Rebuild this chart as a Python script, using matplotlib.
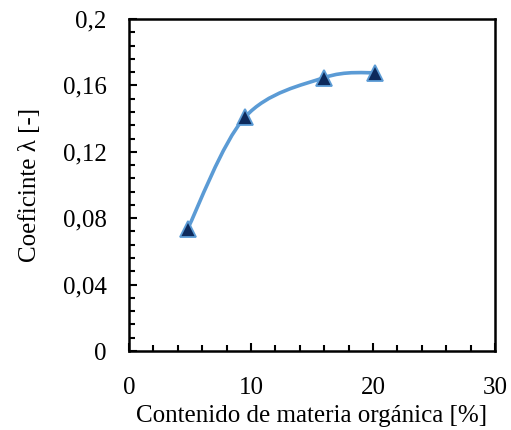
import matplotlib
matplotlib.use("Agg")
import matplotlib.pyplot as plt
import numpy as np
from matplotlib.path import Path
from matplotlib.patches import PathPatch
from matplotlib.ticker import MultipleLocator, FuncFormatter

# data
materia_organica = [4.8, 9.5, 16.0, 20.2]
coef_lambda = [0.0735, 0.1408, 0.1647, 0.1677]

plt.rcParams['font.family'] = ['Liberation Serif', 'DejaVu Serif']
plt.rcParams['font.size'] = 18

LINE_COLOR = '#5B9BD5'
MARKER_COLOR = '#0D2A5C'


def smooth_path(xs, ys, tension=1.0 / 6):
    """Excel-like smoothed line: cubic Bezier segments through the points."""
    pts = np.column_stack([xs, ys])
    n = len(pts)
    verts = [pts[0]]
    codes = [Path.MOVETO]
    for i in range(n - 1):
        p_prev = pts[i - 1] if i > 0 else pts[i]
        p_next2 = pts[i + 2] if i + 2 < n else pts[i + 1]
        c1 = pts[i] + (pts[i + 1] - p_prev) * tension
        c2 = pts[i + 1] - (p_next2 - pts[i]) * tension
        verts += [c1, c2, pts[i + 1]]
        codes += [Path.CURVE4] * 3
    return Path(verts, codes)


fig = plt.figure(figsize=(5.11, 4.30), dpi=100)
ax = fig.add_axes([0.2524, 0.1837, 0.7163, 0.7721])

ax.add_patch(PathPatch(smooth_path(materia_organica, coef_lambda),
                       facecolor='none', edgecolor=LINE_COLOR, lw=2.6,
                       capstyle='round', zorder=2))
ax.plot(materia_organica, coef_lambda, linestyle='none', marker='^',
        markersize=11, markerfacecolor=MARKER_COLOR,
        markeredgecolor=LINE_COLOR, markeredgewidth=1.3, zorder=3)

ax.set_xlim(0, 30)
ax.set_ylim(0, 0.2)
ax.xaxis.set_major_locator(MultipleLocator(10))
ax.xaxis.set_minor_locator(MultipleLocator(2))
ax.yaxis.set_major_locator(MultipleLocator(0.04))
ax.yaxis.set_minor_locator(MultipleLocator(0.008))


def coma(v, pos):
    if abs(v) < 1e-9:
        return '0'
    return ('%g' % round(v, 3)).replace('.', ',')


ax.yaxis.set_major_formatter(FuncFormatter(coma))

ax.tick_params(which='both', direction='in', width=1.5, colors='black')
ax.tick_params(which='major', length=6)
ax.tick_params(which='minor', length=4)
ax.tick_params(axis='y', which='both', left=True, right=False, pad=16)
ax.tick_params(axis='x', which='both', bottom=True, top=False, pad=19)
for sp in ax.spines.values():
    sp.set_linewidth(1.8)

ax.set_xlabel('Contenido de materia orgánica [%]', labelpad=4)
ax.set_ylabel('Coeficinte λ [-]', labelpad=16)

fig.savefig('out.png', dpi=100)
